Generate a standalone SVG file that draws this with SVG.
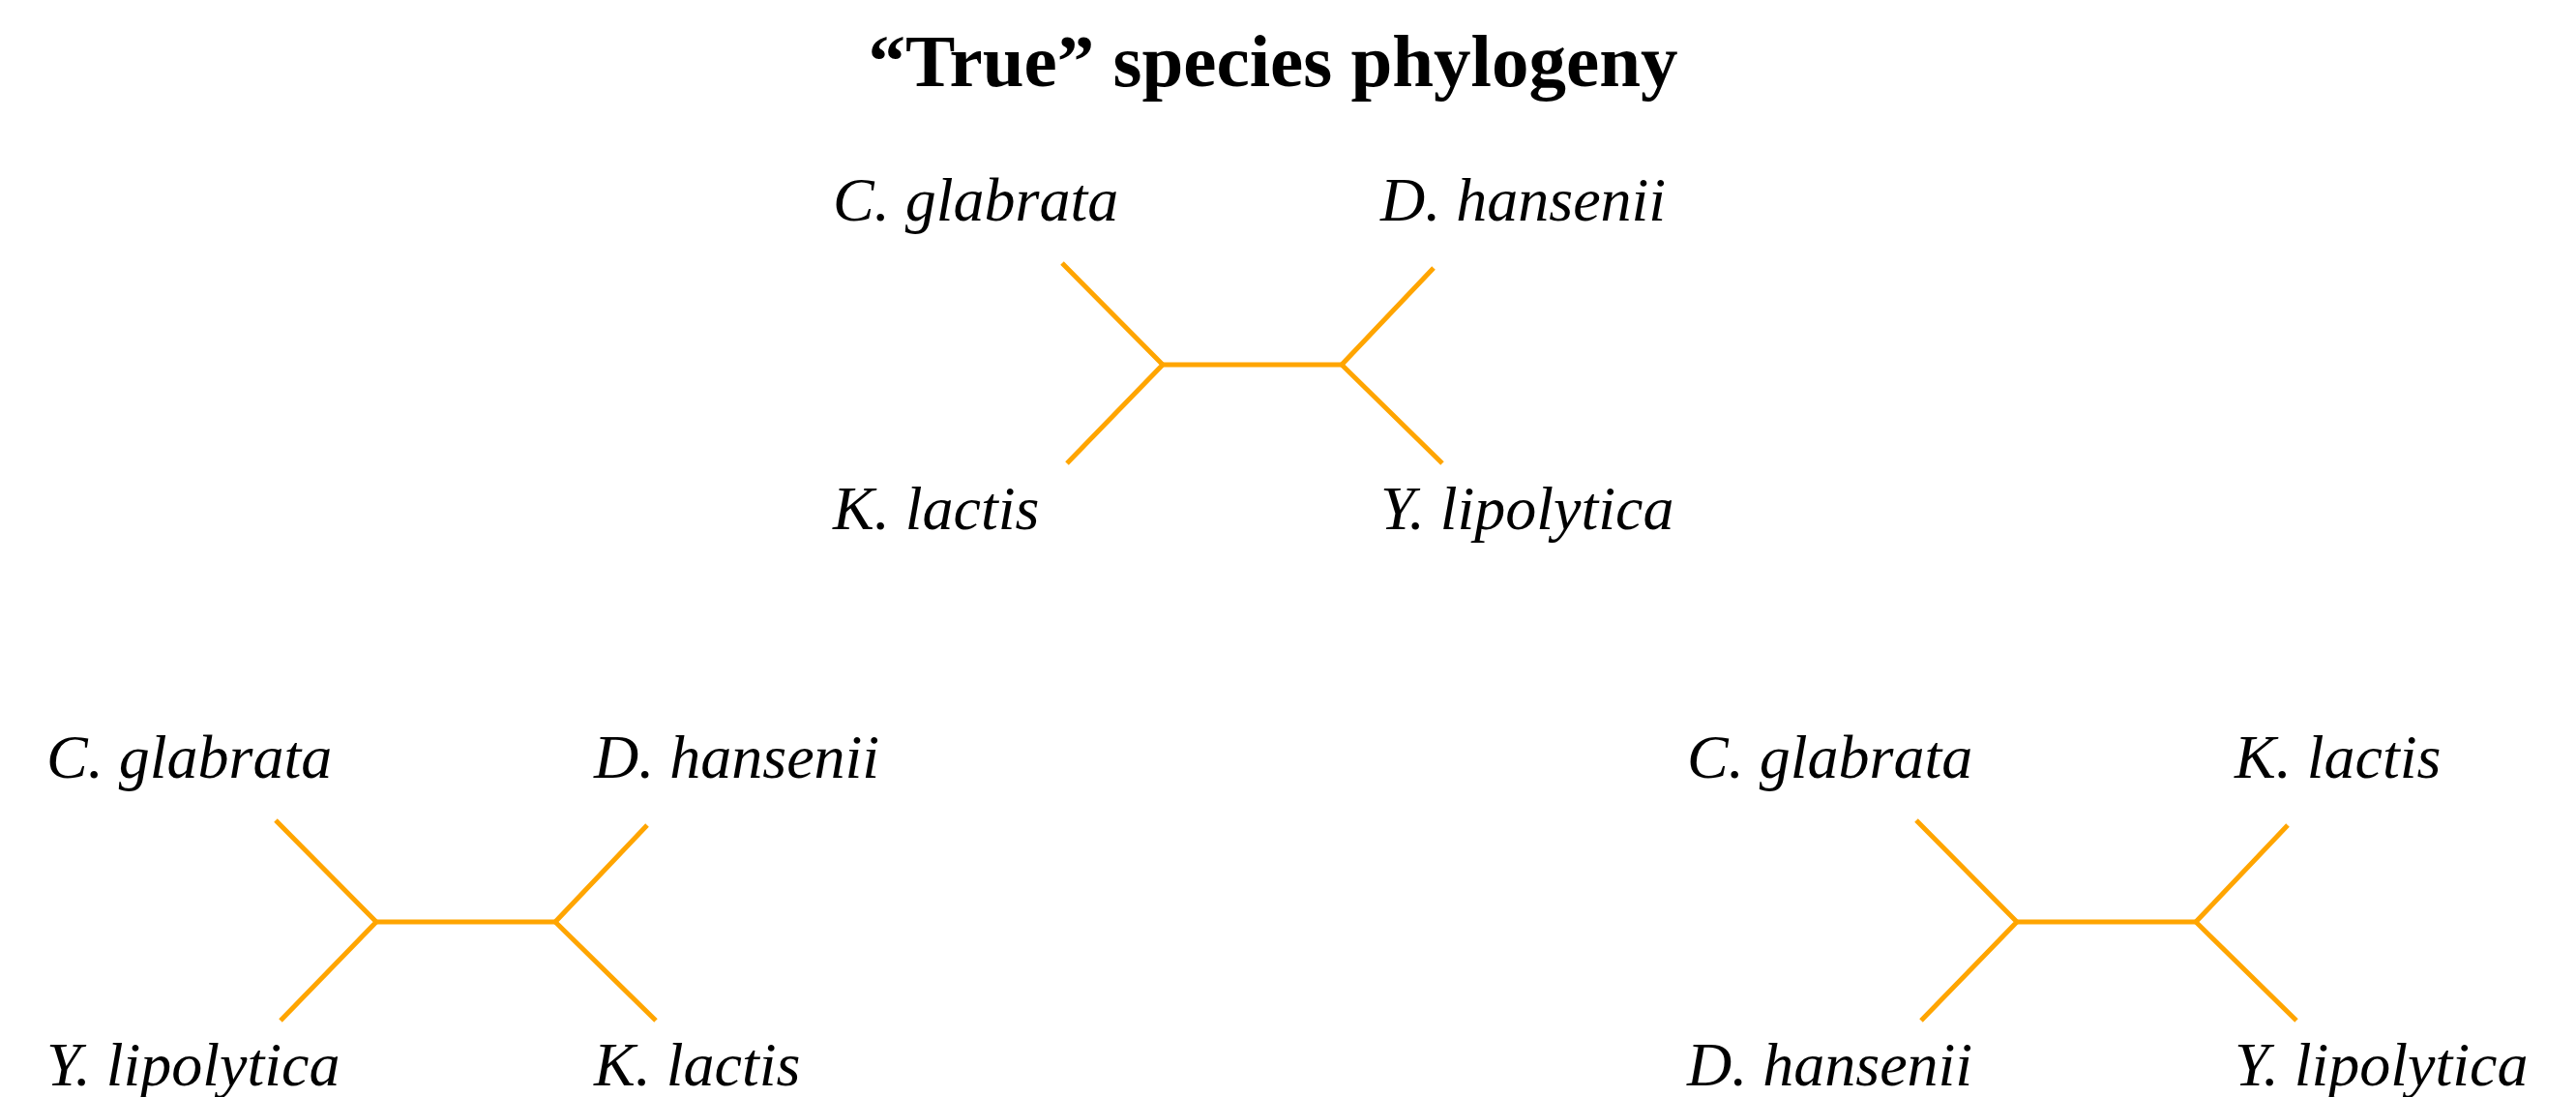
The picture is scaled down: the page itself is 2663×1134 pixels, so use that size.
<svg xmlns="http://www.w3.org/2000/svg" width="2663" height="1134" viewBox="0 0 2663 1134">
  <style>
    .title { font-family: "Liberation Serif", "Times New Roman", serif; font-weight: bold; font-size: 77px; fill: #000; }
    .taxon { font-family: "Liberation Serif", "Times New Roman", serif; font-style: italic; font-size: 64px; fill: #000; }
    .branch { fill: none; stroke: #FFA500; stroke-width: 5; stroke-linecap: butt; stroke-linejoin: miter; }
  </style>
  <defs>
    <!-- shared unrooted 4-taxon topology; origin = baseline/left of the top-left label -->
    <g id="quartet-edges">
      <polyline class="branch" points="237,44 341,149 242,251"/>
      <polyline class="branch" points="621,49 526,149 630,251"/>
      <line class="branch" x1="341" y1="149" x2="526" y2="149"/>
    </g>
  </defs>

  <rect width="2663" height="1134" fill="#fff"/>

  <text id="title" class="title" x="1316" y="89" text-anchor="middle">“True” species phylogeny</text>

  <!-- species tree -->
  <g id="tree-true" transform="translate(861,228)">
    <g id="connectors-true"><use href="#quartet-edges"/></g>
    <g id="true-cglabrata"><text class="taxon" x="0" y="0">C. glabrata</text></g>
    <g id="true-dhansenii"><text class="taxon" x="566" y="0">D. hansenii</text></g>
    <g id="true-klactis"><text class="taxon" x="0" y="319">K. lactis</text></g>
    <g id="true-ylipolytica"><text class="taxon" x="566" y="319">Y. lipolytica</text></g>
  </g>

  <!-- alternative topology 1 -->
  <g id="tree-alt1" transform="translate(48,804)">
    <g id="connectors-alt1"><use href="#quartet-edges"/></g>
    <g id="alt1-cglabrata"><text class="taxon" x="0" y="0">C. glabrata</text></g>
    <g id="alt1-dhansenii"><text class="taxon" x="566" y="0">D. hansenii</text></g>
    <g id="alt1-ylipolytica"><text class="taxon" x="0" y="318">Y. lipolytica</text></g>
    <g id="alt1-klactis"><text class="taxon" x="566" y="318">K. lactis</text></g>
  </g>

  <!-- alternative topology 2 -->
  <g id="tree-alt2" transform="translate(1744,804)">
    <g id="connectors-alt2"><use href="#quartet-edges"/></g>
    <g id="alt2-cglabrata"><text class="taxon" x="0" y="0">C. glabrata</text></g>
    <g id="alt2-klactis"><text class="taxon" x="566" y="0">K. lactis</text></g>
    <g id="alt2-dhansenii"><text class="taxon" x="0" y="318">D. hansenii</text></g>
    <g id="alt2-ylipolytica"><text class="taxon" x="566" y="318">Y. lipolytica</text></g>
  </g>
</svg>
